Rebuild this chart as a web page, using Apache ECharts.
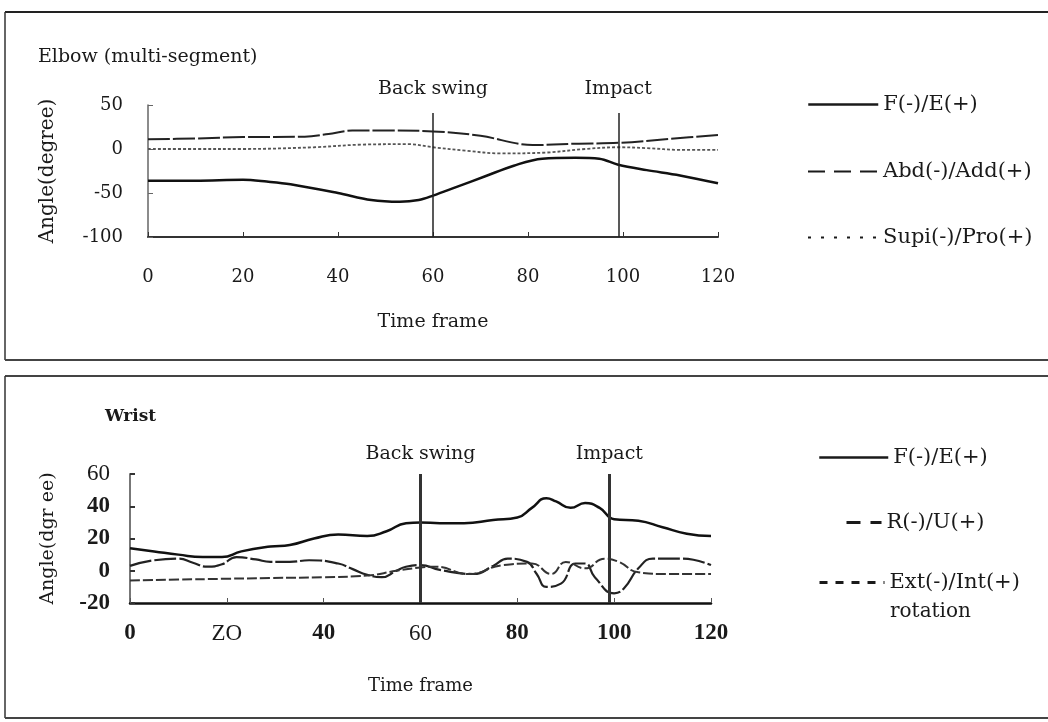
<!DOCTYPE html>
<html>
<head>
<meta charset="utf-8">
<title>Elbow and wrist angles</title>
<script src="https://cdn.jsdelivr.net/npm/echarts@6.0.0/dist/echarts.min.js"></script>
<style>
  html, body { margin: 0; padding: 0; background: #fff; }
  #main { width: 1048px; height: 722px; }
</style>
</head>
<body>
<div id="main"></div>
<script>
const SERIF = 'DejaVu Serif'
const TIMES = 'Liberation Serif'
const INK = '#1a1a1a'

// swing events (time frame)
const eventNames = ['Back swing', 'Impact']
const eventFrames = [60, 99]

// elbow (multi-segment)
const elbowFE_t = [0, 10, 20, 25, 30, 40, 47, 53, 57, 60, 65, 71, 77, 83, 90, 95, 99, 105, 112, 120]
const elbowFE_v = [-36, -36, -35, -37, -40, -50, -58, -60, -58, -53, -43, -31, -19, -11, -10, -11, -18, -24, -30, -39]
const elbowAbd_t = [0, 10, 20, 33, 38, 43, 50, 60, 70, 81, 90, 99, 110, 120]
const elbowAbd_v = [11, 12, 13.5, 14, 17, 21, 21, 20, 15, 4.5, 6, 7, 11.5, 16]
const elbowSupi_t = [0, 10, 20, 35, 45, 55, 60, 67, 74, 84, 92, 99, 105, 112, 120]
const elbowSupi_v = [0, 0, 0, 2, 5, 5.5, 2, -2, -5, -4, 0, 2, 1, -1, -1]
const elbowYTicks = { min: -100, max: 50, step: 50 }
const elbowMarkTop = 41

// wrist
const wristFE_t = [0, 5, 10, 15, 19, 23, 29, 33, 38, 43, 49, 53, 57, 60, 64, 69, 75, 80, 83, 86, 88, 91, 94, 97, 100, 105, 110, 115, 120]
const wristFE_v = [14, 12, 10, 8.5, 8.5, 12, 15, 16, 20, 22.5, 21.5, 24.5, 29.5, 30, 29.5, 29.5, 31.5, 33, 39, 45, 43, 39, 42, 39, 32, 31, 27, 23, 21.5]
const wristRU_t = [0, 5, 10, 13, 16, 19, 22, 26, 29, 33, 37, 43, 46, 49, 52, 55, 57, 60, 64, 71, 75, 78, 82, 84, 86, 89, 92, 94, 96, 100, 102, 105, 108, 114, 120]
const wristRU_v = [3, 6.5, 7.5, 5, 2.5, 4, 8.5, 7, 5.5, 5.5, 6.5, 4.5, 1, -2.5, -4, 0, 2.5, 3.5, 0.5, -2, 3, 7.5, 5.5, -2, -10, -8, 4.5, 4.5, -4, -14, -11, 1.5, 7.5, 7.5, 3.5]
const wristExt_t = [0, 10, 19, 29, 40, 49, 55, 60, 63, 70, 77, 83, 87, 90, 94, 98, 101, 105, 111, 120]
const wristExt_v = [-6, -5.5, -5, -4.5, -4, -3, 0, 2, 2.5, -2, 3.5, 4.5, -2, 5.5, 1.5, 7.5, 5.5, -1, -2, -2]
const wristYTicks = { min: -20, max: 60, step: 20 }
const wristXLabels = ['0', 'ZO', '40', '60', '80', '100', '120']

const chart = echarts.init(document.getElementById('main'))

function pairs(t, v) {
  return t.map((x, i) => [x, v[i]])
}

function lineSeries(name, gi, t, v, style, smooth) {
  return {
    type: 'line',
    name: name,
    xAxisIndex: gi,
    yAxisIndex: gi,
    data: pairs(t, v),
    symbol: 'none',
    smooth: smooth,
    silent: true,
    itemStyle: { color: style.color },
    lineStyle: style
  }
}

function legendItem(name, left, top, w, style) {
  return {
    left: left,
    top: top,
    padding: 0,
    orient: 'vertical',
    selectedMode: false,
    itemWidth: w,
    itemHeight: 14,
    textStyle: { fontFamily: SERIF, fontSize: 21, color: INK },
    data: [{
      name: name,
      itemStyle: { opacity: 0 },
      lineStyle: Object.assign({ color: INK }, style)
    }]
  }
}

function eventLabel(distance) {
  return {
    position: 'end',
    formatter: '{b}',
    distance: distance,
    fontFamily: SERIF,
    fontSize: 19,
    color: INK
  }
}

const bottomLabelRich = {
  b: { fontFamily: TIMES, fontSize: 23, fontWeight: 'bold', color: INK },
  n: { fontFamily: TIMES, fontSize: 23, color: INK }
}

// top: elbow
const elbowSeries = [
  lineSeries('F(-)/E(+)', 0, elbowFE_t, elbowFE_v, { color: '#111', width: 2.5 }, 0.35),
  lineSeries('Abd(-)/Add(+)', 0, elbowAbd_t, elbowAbd_v, { color: '#222', width: 2, type: [22, 3] }, 0.35),
  lineSeries('Supi(-)/Pro(+)', 0, elbowSupi_t, elbowSupi_v, { color: '#555', width: 1.8, type: [3, 2] }, 0.35)
]
elbowSeries[0].markLine = {
  silent: true,
  symbol: ['none', 'none'],
  animation: false,
  lineStyle: { color: '#222', width: 1.5, type: 'solid' },
  label: eventLabel(14),
  data: eventNames.map((n, i) => [
    { name: n, coord: [eventFrames[i], elbowYTicks.min] },
    { coord: [eventFrames[i], elbowMarkTop] }
  ])
}

// bottom: wrist
const wristSeries = [
  lineSeries('F(-)/E(+)', 1, wristFE_t, wristFE_v, { color: '#111', width: 2.5 }, 0.5),
  lineSeries('R(-)/U(+)', 1, wristRU_t, wristRU_v, { color: '#222', width: 2.2, type: [22, 3] }, 0.5),
  lineSeries('Ext(-)/Int(+)', 1, wristExt_t, wristExt_v, { color: '#333', width: 2, type: [10, 3] }, 0.5)
]
wristSeries[0].markLine = {
  silent: true,
  symbol: ['none', 'none'],
  animation: false,
  lineStyle: { color: '#333', width: 3, type: 'solid' },
  label: eventLabel(10),
  data: eventNames.map((n, i) => ({ name: n, xAxis: eventFrames[i] }))
}

const option = {
  animation: false,
  backgroundColor: '#fff',
  title: [
    { text: 'Elbow (multi-segment)', left: 38, top: 48, padding: 0,
      textStyle: { fontFamily: SERIF, fontSize: 19, fontWeight: 'normal', color: INK } },
    { text: 'Wrist', left: 105, top: 408, padding: 0,
      textStyle: { fontFamily: SERIF, fontSize: 17, fontWeight: 'bold', color: INK } }
  ],
  grid: [
    { left: 148, top: 105, width: 570, height: 132 },
    { left: 130, top: 474, width: 581, height: 129 }
  ],
  xAxis: [
    {
      gridIndex: 0, type: 'value', min: 0, max: 120, interval: 20,
      name: 'Time frame', nameLocation: 'middle', nameGap: 76,
      nameTextStyle: { fontFamily: SERIF, fontSize: 19, color: INK },
      axisLine: { onZero: false, lineStyle: { color: '#333', width: 2 } },
      axisTick: { inside: true, length: 5, lineStyle: { color: '#333' } },
      splitLine: { show: false },
      axisLabel: { margin: 31, fontFamily: SERIF, fontSize: 18, color: INK }
    },
    {
      gridIndex: 1, type: 'value', min: 0, max: 120, interval: 20,
      name: 'Time frame', nameLocation: 'middle', nameGap: 74,
      nameTextStyle: { fontFamily: SERIF, fontSize: 18, color: INK },
      axisLine: { onZero: false, lineStyle: { color: '#111', width: 2.5 } },
      axisTick: { inside: true, length: 5, lineStyle: { color: '#555' } },
      splitLine: { show: false },
      axisLabel: {
        margin: 19,
        formatter: v => {
          const s = wristXLabels[v / 20]
          return (v === 20 || v === 60) ? '{n|' + s + '}' : '{b|' + s + '}'
        },
        rich: bottomLabelRich
      }
    }
  ],
  yAxis: [
    {
      gridIndex: 0, type: 'value',
      min: elbowYTicks.min, max: elbowYTicks.max, interval: elbowYTicks.step,
      name: 'Angle(degree)', nameLocation: 'middle', nameGap: 90,
      nameTextStyle: { fontFamily: SERIF, fontSize: 20, color: INK },
      axisLine: { show: true, onZero: false, lineStyle: { color: '#666', width: 1.5 } },
      axisTick: { show: true, inside: true, length: 5, lineStyle: { color: '#666' } },
      splitLine: { show: false },
      axisLabel: { margin: 25, fontFamily: SERIF, fontSize: 18, color: INK }
    },
    {
      gridIndex: 1, type: 'value',
      min: wristYTicks.min, max: wristYTicks.max, interval: wristYTicks.step,
      name: 'Angle(dgr ee)', nameLocation: 'middle', nameGap: 72,
      nameTextStyle: { fontFamily: SERIF, fontSize: 19, color: INK },
      axisLine: { show: true, onZero: false, lineStyle: { color: '#777', width: 2 } },
      axisTick: { show: true, inside: true, length: 5, lineStyle: { color: '#333', width: 2 } },
      splitLine: { show: false },
      axisLabel: {
        margin: 20,
        formatter: v => (v === 60 ? '{n|' + v + '}' : '{b|' + v + '}'),
        rich: bottomLabelRich
      }
    }
  ],
  legend: [
    legendItem('F(-)/E(+)', 807, 94, 70, { type: 'solid', width: 2.5 }),
    legendItem('Abd(-)/Add(+)', 807, 161, 70, { type: [17, 9], width: 2 }),
    legendItem('Supi(-)/Pro(+)', 807, 227, 70, { type: [3, 10], width: 2 }),
    legendItem('F(-)/E(+)', 818, 447, 69, { type: 'solid', width: 2.5 }),
    legendItem('R(-)/U(+)', 845, 512, 35, { type: [14, 10], width: 3 }),
    legendItem('Ext(-)/Int(+)', 818, 572, 65, { type: [8, 8], width: 3 })
  ],
  graphic: [
    { type: 'line', silent: true, shape: { x1: 5, y1: 12, x2: 1048, y2: 12 }, style: { stroke: '#222', lineWidth: 2 } },
    { type: 'line', silent: true, shape: { x1: 5, y1: 12, x2: 5, y2: 360 }, style: { stroke: '#333', lineWidth: 1.5 } },
    { type: 'line', silent: true, shape: { x1: 5, y1: 360, x2: 1048, y2: 360 }, style: { stroke: '#444', lineWidth: 2 } },
    { type: 'line', silent: true, shape: { x1: 5, y1: 376, x2: 1048, y2: 376 }, style: { stroke: '#444', lineWidth: 2 } },
    { type: 'line', silent: true, shape: { x1: 5, y1: 376, x2: 5, y2: 718 }, style: { stroke: '#333', lineWidth: 1.5 } },
    { type: 'line', silent: true, shape: { x1: 5, y1: 718, x2: 1048, y2: 718 }, style: { stroke: '#444', lineWidth: 2 } },
    { type: 'text', left: 890, top: 602, silent: true,
      style: { text: 'rotation', font: '20px "DejaVu Serif"', fill: INK } }
  ],
  series: elbowSeries.concat(wristSeries)
}

chart.setOption(option)
</script>
</body>
</html>
